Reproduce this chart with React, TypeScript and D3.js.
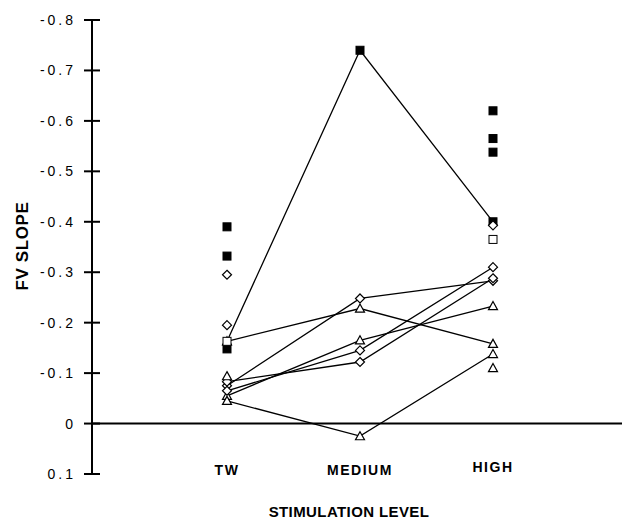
import React from "react";
import * as d3 from "d3";

const categories = ["TW", "MEDIUM", "HIGH"];
const yTicks = [-0.8, -0.7, -0.6, -0.5, -0.4, -0.3, -0.2, -0.1, 0, 0.1];

// Connected subjects: values at TW, MEDIUM, HIGH
const lineSeries: { shape: string; values: number[] }[] = [
  { shape: "squareFilled", values: [-0.163, -0.74, -0.4] },
  { shape: "triangle", values: [-0.163, -0.228, -0.158] },
  { shape: "diamond", values: [-0.075, -0.248, -0.283] },
  { shape: "triangle", values: [-0.055, -0.165, -0.233] },
  { shape: "diamond", values: [-0.065, -0.145, -0.31] },
  { shape: "diamond", values: [-0.083, -0.122, -0.288] },
  { shape: "triangle", values: [-0.045, 0.025, -0.138] },
];

// Individual observations without connecting lines
const pointCats = ["TW", "TW", "TW", "TW", "TW", "TW", "TW", "HIGH", "HIGH", "HIGH", "HIGH", "HIGH", "HIGH"];
const pointValues = [-0.39, -0.332, -0.295, -0.195, -0.148, -0.163, -0.094, -0.62, -0.565, -0.538, -0.393, -0.365, -0.11];
const pointShapes = [
  "squareFilled", "squareFilled", "diamond", "diamond", "squareFilled", "squareOpen", "triangle",
  "squareFilled", "squareFilled", "squareFilled", "diamond", "squareOpen", "triangle",
];

const W = 622;
const H = 520;

const x = d3.scalePoint<string>().domain(["", ...categories, " "]).range([94, 626]);
const y = d3.scaleLinear().domain([0.1, -0.8]).range([474, 20]);

function Marker({ shape, cx, cy }: { shape: string; cx: number; cy: number }) {
  if (shape === "squareFilled" || shape === "squareOpen") {
    const s = 8;
    return (
      <rect
        x={cx - s / 2}
        y={cy - s / 2}
        width={s}
        height={s}
        fill={shape === "squareFilled" ? "#000" : "#fff"}
        stroke="#000"
        strokeWidth={1}
      />
    );
  }
  if (shape === "diamond") {
    const r = 4.5;
    return (
      <path
        d={`M${cx},${cy - r}L${cx + r},${cy}L${cx},${cy + r}L${cx - r},${cy}Z`}
        fill="#fff"
        stroke="#000"
        strokeWidth={1.2}
      />
    );
  }
  const r = 4.5;
  return (
    <path
      d={`M${cx},${cy - r}L${cx + r},${cy + r * 0.8}L${cx - r},${cy + r * 0.8}Z`}
      fill="#fff"
      stroke="#000"
      strokeWidth={1.2}
    />
  );
}

export default function App() {
  const line = d3
    .line<number>()
    .x((_, i) => x(categories[i]) as number)
    .y((v) => y(v));
  const axisX = 92;
  const font = "Liberation Sans, Arial, Helvetica, sans-serif";

  return (
    <svg
      width={W}
      height={H}
      style={{ position: "absolute", left: 0, top: 0, background: "#fff" }}
      fontFamily={font}
    >
      <rect width={W} height={H} fill="#fff" />
      {/* y axis */}
      <line x1={axisX} x2={axisX} y1={y(-0.8)} y2={y(0.1)} stroke="#000" strokeWidth={2} />
      {yTicks.map((t) => (
        <g key={t}>
          <line x1={axisX - 8} x2={axisX + 8} y1={y(t)} y2={y(t)} stroke="#000" strokeWidth={2} />
          <text
            x={76}
            y={y(t)}
            dy="0.36em"
            textAnchor="end"
            fontSize={14}
            letterSpacing={3}
            fill="#000"
          >
            {t === 0 ? "0" : d3.format(".1f")(t).replace("−", "-")}
          </text>
        </g>
      ))}
      {/* zero reference line */}
      <line x1={axisX} x2={W} y1={y(0)} y2={y(0)} stroke="#000" strokeWidth={2} />

      {/* connecting lines */}
      {lineSeries.map((s, i) => (
        <path key={i} d={line(s.values) as string} fill="none" stroke="#000" strokeWidth={1.3} />
      ))}

      {/* markers on lines */}
      {lineSeries.map((s, i) =>
        s.values.map((v, j) =>
          i === 0 && j === 0 ? null : (
            <Marker key={`${i}-${j}`} shape={s.shape} cx={x(categories[j]) as number} cy={y(v)} />
          )
        )
      )}

      {/* individual points */}
      {pointValues.map((v, i) => (
        <Marker key={`p${i}`} shape={pointShapes[i]} cx={x(pointCats[i]) as number} cy={y(v)} />
      ))}

      {/* category labels */}
      {categories.map((c) => (
        <text
          key={c}
          x={x(c) as number}
          y={c === "HIGH" ? 472 : 475}
          textAnchor="middle"
          fontSize={14}
          fontWeight="bold"
          letterSpacing={1.5}
          fill="#000"
        >
          {c}
        </text>
      ))}

      {/* axis titles */}
      <text
        x={349}
        y={517}
        textAnchor="middle"
        fontSize={15}
        fontWeight="bold"
        letterSpacing={0.4}
        fill="#000"
      >
        STIMULATION LEVEL
      </text>
      <text
        transform={`translate(28,246) rotate(-90)`}
        textAnchor="middle"
        fontSize={17}
        fontWeight="bold"
        letterSpacing={0.6}
        fill="#000"
      >
        FV SLOPE
      </text>
    </svg>
  );
}
